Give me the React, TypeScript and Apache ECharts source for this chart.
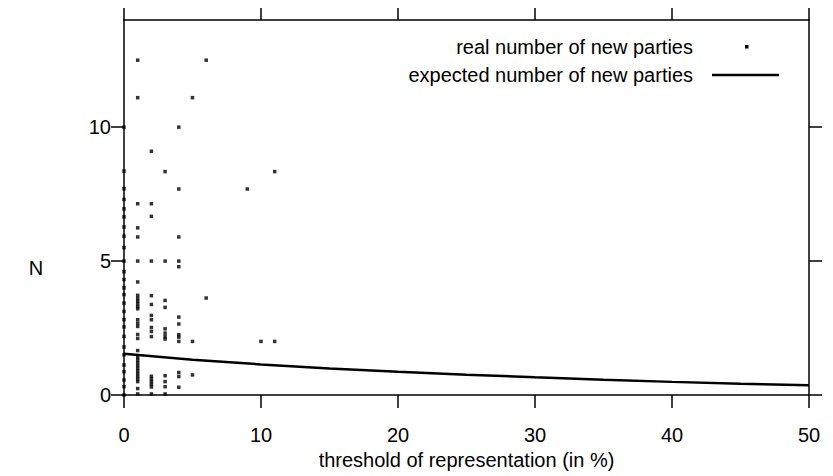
import React, { useEffect, useRef } from "react";
import * as echarts from "echarts";

const xTicks = [0, 10, 20, 30, 40, 50];
const yTicks = [0, 5, 10];

const thr0 = [10, 8.36, 7.7, 7.3, 6.95, 6.65, 6.27, 5.93, 5.5, 5.0, 4.6, 4.31, 4.0, 3.75, 3.43, 3.12, 2.81, 2.54, 2.19, 1.79, 1.5, 1.12, 0.87, 0.56, 0.31, 0];
const thr1 = [12.5, 11.1, 7.14, 6.24, 5.9, 5.0, 4.22, 3.72, 3.6, 3.5, 3.4, 3.3, 3.22, 2.81, 2.68, 2.56, 2.26, 2.11, 1.66, 1.4, 1.3, 1.2, 1.1, 1.0, 0.9, 0.8, 0.7, 0.6, 0.5, 0.24, 0.04];
const thr2 = [9.1, 7.14, 6.67, 5.0, 3.71, 3.38, 2.97, 2.81, 2.52, 2.37, 2.18, 0.7, 0.6, 0.5, 0.4, 0.3, 0.04];
const thr3 = [8.34, 5.0, 3.53, 3.27, 2.47, 2.31, 2.18, 2.09, 0.72, 0.5, 0.31, 0.04];
const thr4 = [10.0, 7.69, 5.9, 5.0, 4.79, 2.91, 2.65, 2.25, 2.16, 2.0, 0.84, 0.69, 0.29];
const thr5 = [11.1, 2.0, 0.75];
const thr6 = [12.5, 3.62];
const thr9 = [7.69];
const thr10 = [2.0];
const thr11 = [8.34, 2.0];

const realThresholds = [0, 1, 2, 3, 4, 5, 6, 9, 10, 11];
const realValues = [thr0, thr1, thr2, thr3, thr4, thr5, thr6, thr9, thr10, thr11];

const expectedX = [0, 5, 10, 15, 20, 25, 30, 35, 40, 45, 50];
const expectedY = [1.54, 1.32, 1.14, 0.99, 0.87, 0.76, 0.66, 0.57, 0.49, 0.42, 0.36];

const FONT = "Liberation Sans, Arial, sans-serif";

export default function App() {
  const ref = useRef<HTMLDivElement>(null);
  useEffect(() => {
    if (!ref.current) return;
    const chart = echarts.init(ref.current, null, { renderer: "svg" });
    const realData: number[][] = [];
    realThresholds.forEach((t, i) => realValues[i].forEach((v) => realData.push([t, v])));
    const expData = expectedX.map((x, i) => [x, expectedY[i]]);
    const axisLine = { show: true, onZero: false, lineStyle: { color: "#000", width: 1.5 } };
    const tick = (len: number) => ({ show: true, inside: false, length: len, lineStyle: { color: "#000", width: 1.5 } });
    chart.setOption({
      animation: false,
      backgroundColor: "#fff",
      textStyle: { fontFamily: FONT },
      grid: { left: 124, right: 24, top: 20, bottom: 81 },
      xAxis: [
        {
          type: "value", min: 0, max: 50, interval: 10, position: "bottom",
          axisLine, axisTick: tick(13), splitLine: { show: false },
          axisLabel: { margin: 30, fontSize: 20, color: "#000", fontFamily: FONT, customValues: xTicks },
          name: "threshold of representation (in %)", nameLocation: "middle", nameGap: 55,
          nameTextStyle: { fontSize: 20, color: "#000", fontFamily: FONT },
        },
        {
          type: "value", min: 0, max: 50, interval: 10, position: "top",
          axisLine, axisTick: tick(12), splitLine: { show: false }, axisLabel: { show: false },
        },
      ],
      yAxis: [
        {
          type: "value", min: 0, max: 14, interval: 5, position: "left",
          axisLine, axisTick: { ...tick(13), customValues: yTicks }, splitLine: { show: false },
          axisLabel: { margin: 13, fontSize: 20, color: "#000", fontFamily: FONT, customValues: yTicks },
        },
        {
          type: "value", min: 0, max: 14, interval: 5, position: "right",
          axisLine, axisTick: { ...tick(13), customValues: yTicks }, splitLine: { show: false },
          axisLabel: { show: false },
        },
      ],
      series: [
        {
          name: "real number of new parties", type: "scatter", data: realData,
          symbol: "rect", symbolSize: 3.5, itemStyle: { color: "#000" }, xAxisIndex: 0, yAxisIndex: 0,
        },
        {
          name: "expected number of new parties", type: "line", data: expData,
          symbol: "none", lineStyle: { color: "#000", width: 2.5 }, xAxisIndex: 0, yAxisIndex: 0,
        },
      ],
      graphic: [
        { type: "text", x: 36, y: 268, style: { text: "N", fontSize: 20, fontFamily: FONT, fill: "#000", align: "center", verticalAlign: "middle" } },
        { type: "text", x: 693, y: 47, style: { text: "real number of new parties", fontSize: 20, fontFamily: FONT, fill: "#000", align: "right", verticalAlign: "middle" } },
        { type: "rect", shape: { x: 745, y: 45, width: 3.5, height: 3.5 }, style: { fill: "#000" } },
        { type: "text", x: 693, y: 75, style: { text: "expected number of new parties", fontSize: 20, fontFamily: FONT, fill: "#000", align: "right", verticalAlign: "middle" } },
        { type: "line", shape: { x1: 712, y1: 75, x2: 779, y2: 75 }, style: { stroke: "#000", lineWidth: 2.5 } },
      ],
    });
    return () => chart.dispose();
  }, []);
  return <div ref={ref} style={{ position: "fixed", left: 0, top: 0, width: 833, height: 476 }} />;
}
